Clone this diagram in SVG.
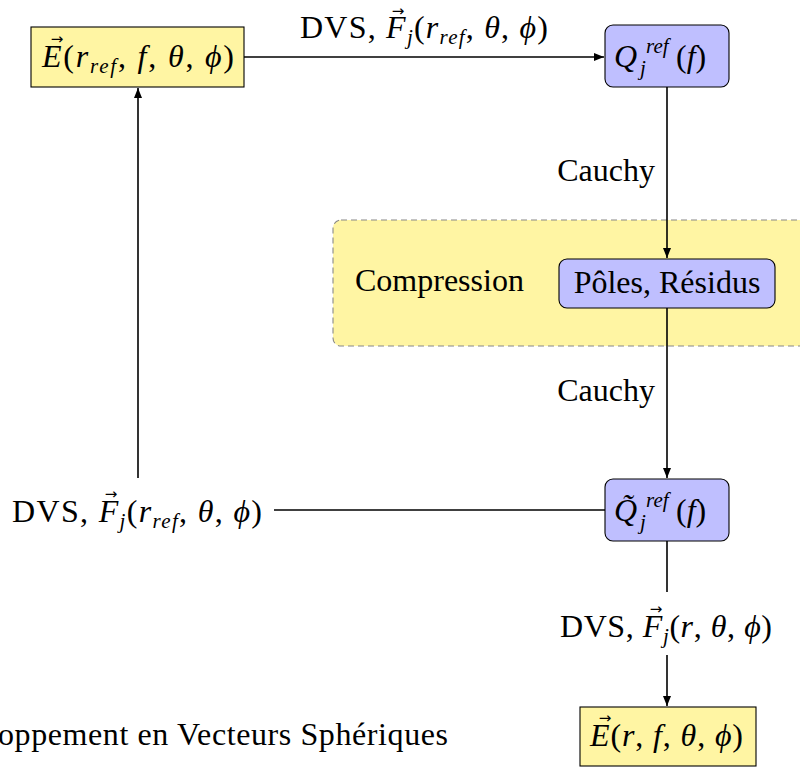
<svg xmlns="http://www.w3.org/2000/svg" width="800" height="767" viewBox="0 0 800 767">
<defs>
<marker id="arr" markerWidth="11" markerHeight="8" refX="10" refY="4" orient="auto" markerUnits="userSpaceOnUse">
<path d="M0,0 L10,4 L0,8 z" fill="#000"/>
</marker>
<style>
text{font-family:"Liberation Serif","DejaVu Serif",serif;font-size:32px;fill:#000}
.i{font-style:italic}
.s{font-size:21px;font-style:italic}
.v{font-family:"DejaVu Sans",sans-serif;font-size:15px;text-anchor:middle}
.yel{fill:#fff5a3;stroke:#000;stroke-width:1.1}
.blu{fill:#bfbfff;stroke:#000;stroke-width:1.1}
.cn{stroke:#000;stroke-width:1.6;fill:none}
</style>
</defs>
<rect width="800" height="767" fill="#fff"/>
<g id="compression">
<rect x="333" y="220" width="480" height="126" rx="8" fill="#fff5a3" stroke="#888" stroke-width="1.1" stroke-dasharray="6,4"/>
<text x="355" y="291">Compression</text>
</g>
<g id="connectors">
<line class="cn" x1="244" y1="57" x2="604" y2="57" marker-end="url(#arr)"/>
<line class="cn" x1="667" y1="87" x2="667" y2="258" marker-end="url(#arr)"/>
<line class="cn" x1="667" y1="308" x2="667" y2="478" marker-end="url(#arr)"/>
<line class="cn" x1="605" y1="510" x2="274" y2="510"/>
<line class="cn" x1="138" y1="478" x2="138" y2="88" marker-end="url(#arr)"/>
<line class="cn" x1="667" y1="541" x2="667" y2="592"/>
<line class="cn" x1="667" y1="655" x2="667" y2="706" marker-end="url(#arr)"/>
<text x="300" y="38" textLength="248" lengthAdjust="spacing">DVS, <tspan class="i">F</tspan><tspan class="s" dy="6">j</tspan><tspan dy="-6">(</tspan><tspan class="i">r</tspan><tspan class="s" dy="6">ref</tspan><tspan dy="-6">, </tspan><tspan class="i">θ</tspan>, <tspan class="i">ϕ</tspan>)</text>
<text class="v" x="398" y="16">→</text>
<text x="655" y="181" text-anchor="end">Cauchy</text>
<text x="655" y="401" text-anchor="end">Cauchy</text>
<text x="12" y="522" textLength="250" lengthAdjust="spacing">DVS, <tspan class="i">F</tspan><tspan class="s" dy="6">j</tspan><tspan dy="-6">(</tspan><tspan class="i">r</tspan><tspan class="s" dy="6">ref</tspan><tspan dy="-6">, </tspan><tspan class="i">θ</tspan>, <tspan class="i">ϕ</tspan>)</text>
<text class="v" x="111" y="499">→</text>
<text x="560" y="637" textLength="212" lengthAdjust="spacing">DVS, <tspan class="i">F</tspan><tspan class="s" dy="6">j</tspan><tspan dy="-6">(</tspan><tspan class="i">r</tspan>, <tspan class="i">θ</tspan>, <tspan class="i">ϕ</tspan>)</text>
<text class="v" x="656" y="614">→</text>
</g>
<g id="node-E-ref">
<rect class="yel" x="31" y="27" width="213" height="60"/>
<text x="42" y="67" textLength="192" lengthAdjust="spacing"><tspan class="i">E</tspan>(<tspan class="i">r</tspan><tspan class="s" dy="6">ref</tspan><tspan dy="-6">, </tspan><tspan class="i">f</tspan>, <tspan class="i">θ</tspan>, <tspan class="i">ϕ</tspan>)</text>
<text class="v" x="57" y="44">→</text>
</g>
<g id="node-Q-ref">
<rect class="blu" x="605" y="25" width="124" height="62" rx="8"/>
<text class="i" x="614" y="67">Q</text>
<text class="s" x="646" y="53">ref</text>
<text class="s" x="640" y="75">j</text>
<text x="676" y="67">(<tspan class="i">f</tspan>)</text>
</g>
<g id="node-poles">
<rect class="blu" x="559" y="259" width="216" height="49" rx="8"/>
<text x="667" y="293" text-anchor="middle">Pôles, Résidus</text>
</g>
<g id="node-Q-tilde">
<rect class="blu" x="605" y="479" width="124" height="62" rx="8"/>
<text class="i" x="614" y="521">Q̃</text>
<text class="s" x="646" y="507">ref</text>
<text class="s" x="640" y="529">j</text>
<text x="676" y="521">(<tspan class="i">f</tspan>)</text>
</g>
<g id="node-E">
<rect class="yel" x="580" y="707" width="176" height="59"/>
<text x="590" y="746" textLength="153" lengthAdjust="spacing"><tspan class="i">E</tspan>(<tspan class="i">r</tspan>, <tspan class="i">f</tspan>, <tspan class="i">θ</tspan>, <tspan class="i">ϕ</tspan>)</text>
<text class="v" x="605" y="723">→</text>
</g>
<g id="legend">
<text x="-2" y="745" textLength="450" lengthAdjust="spacing">oppement en Vecteurs Sphériques</text>
</g>
</svg>
